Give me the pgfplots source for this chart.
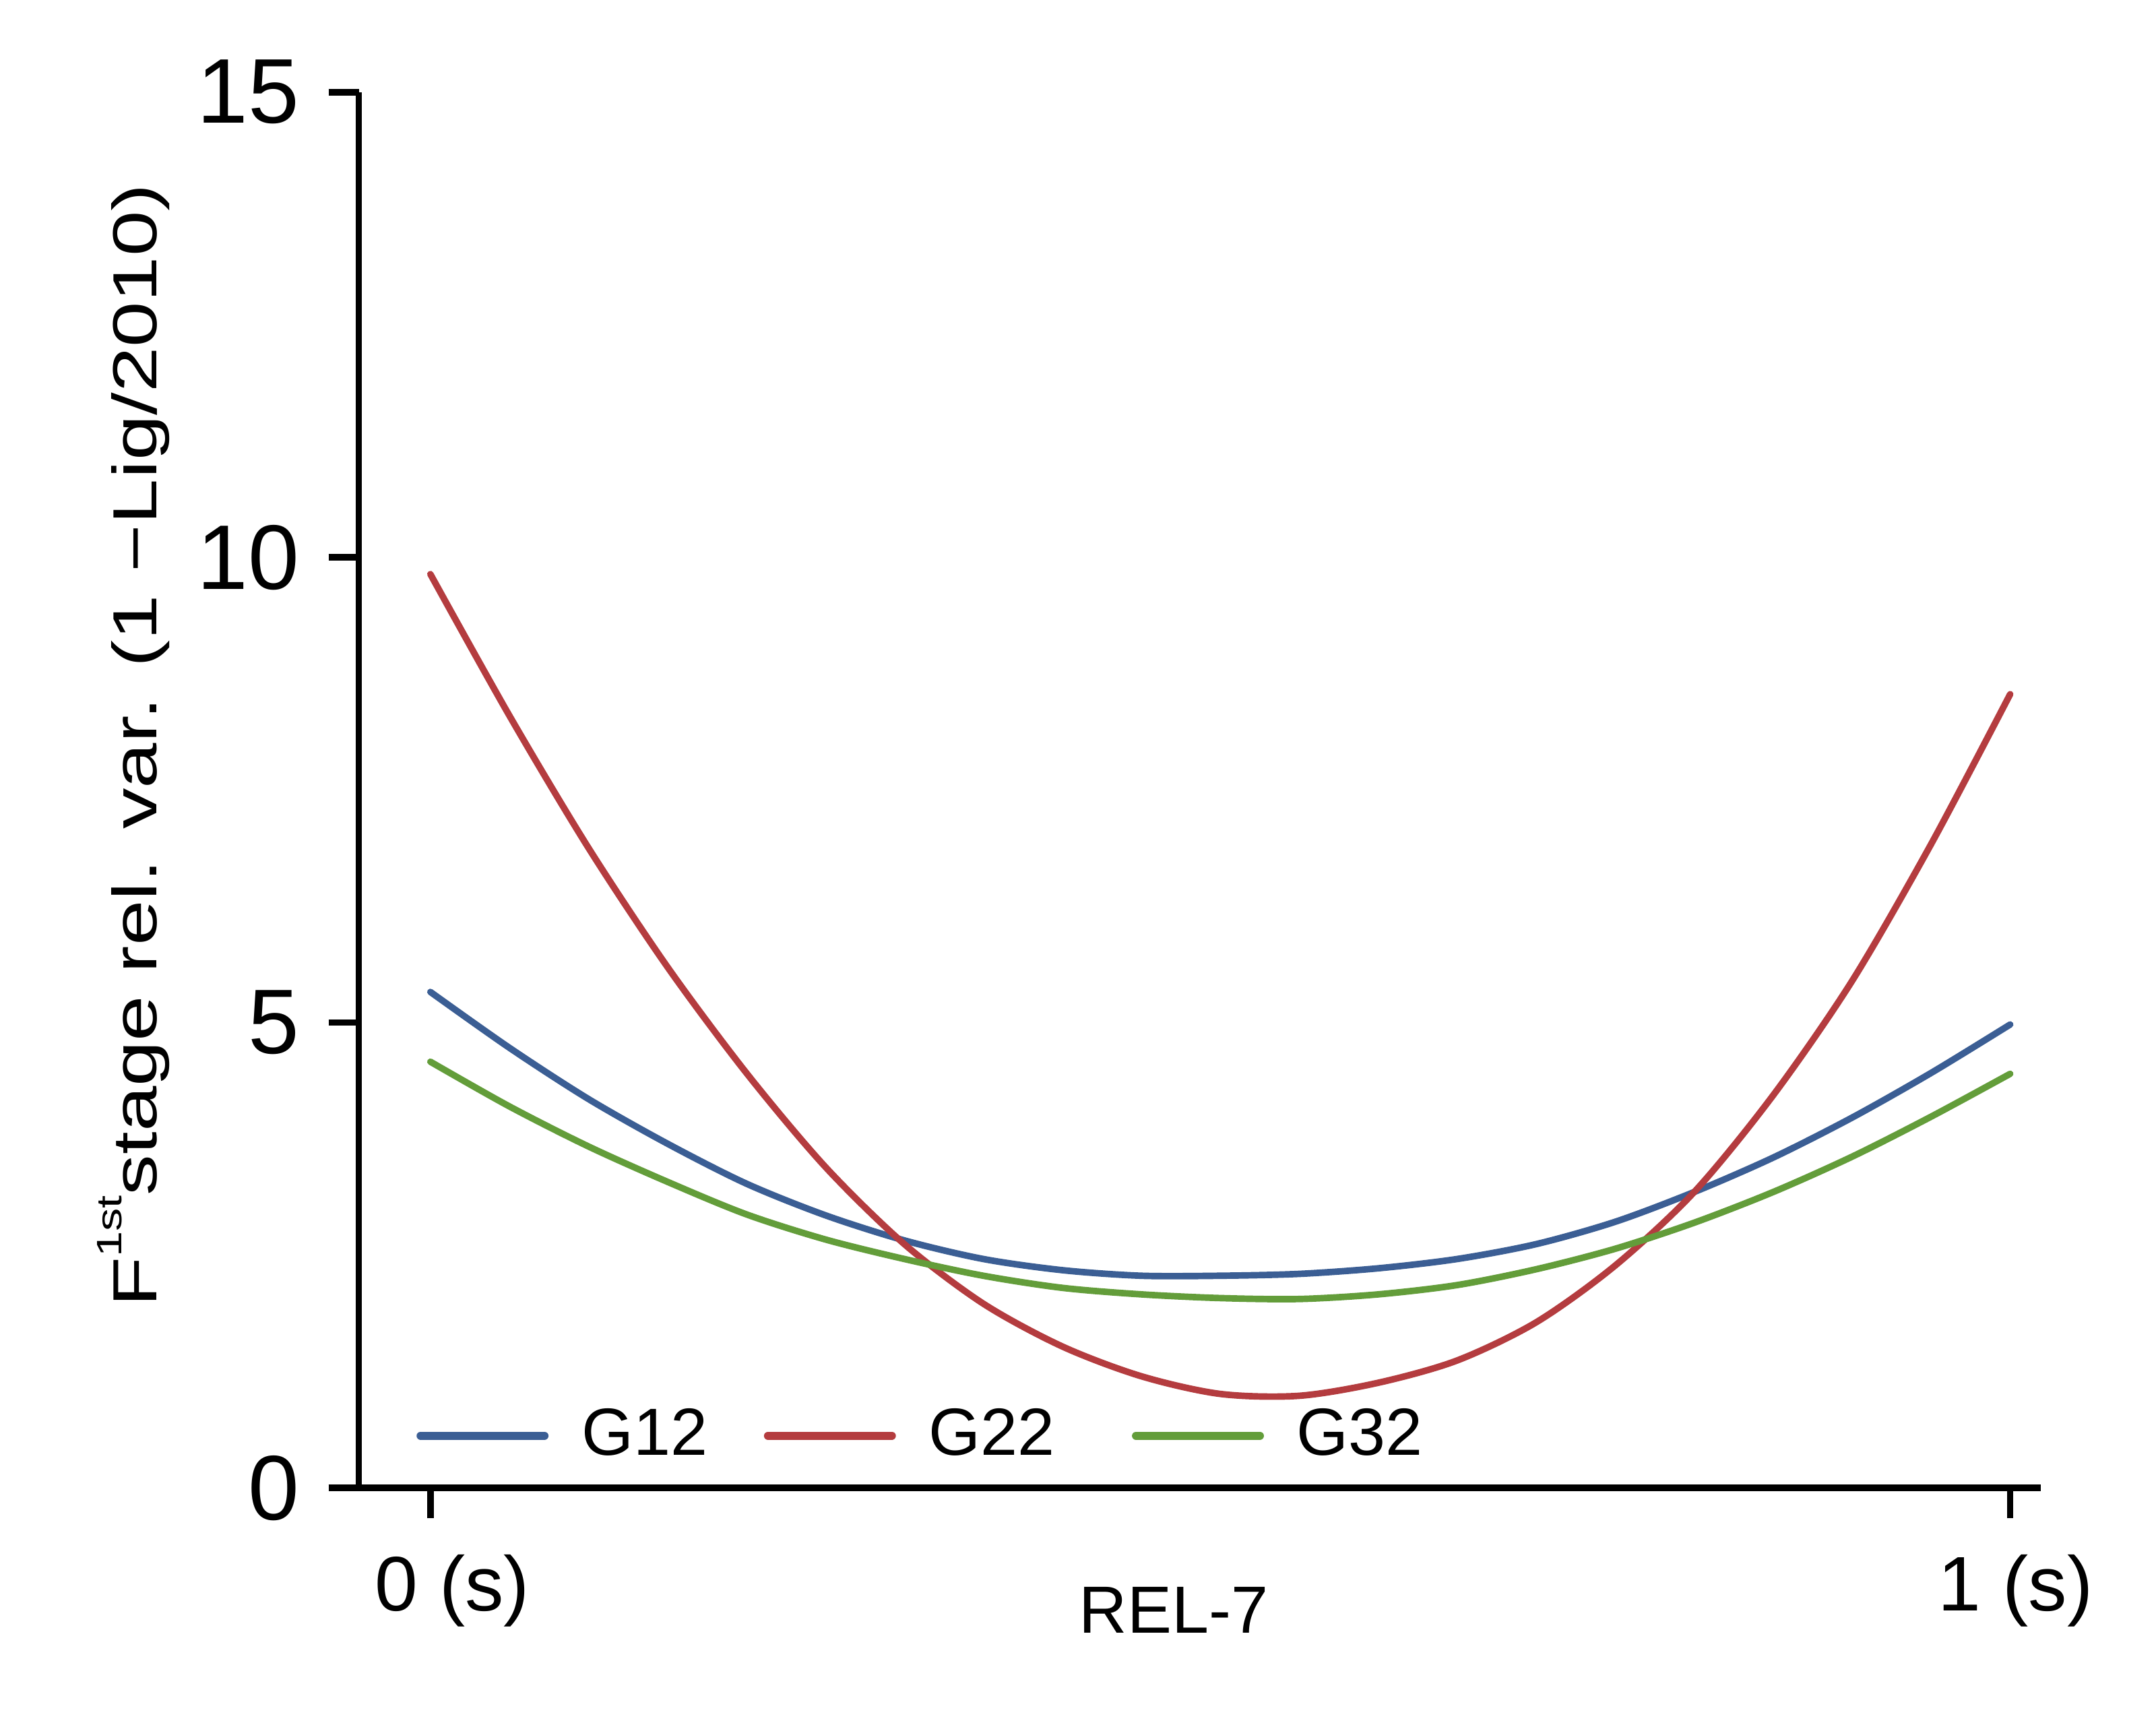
\documentclass[border=0pt]{standalone}
\usepackage{fontspec}
\setmainfont{Liberation Sans}
% wide cut of the same face for the rotated y label
\newfontfamily\ylabfont[FakeStretch=1.31]{Liberation Sans}
\usepackage{pgfplots}
\pgfplotsset{compat=1.18}

\definecolor{gblue}{RGB}{59,94,148}
\definecolor{gred}{RGB}{180,60,63}
\definecolor{ggreen}{RGB}{99,157,58}

\begin{document}
\begin{tikzpicture}
\begin{axis}[
  at={(0,0)}, anchor=south west,
  scale only axis, width=12.23cm, height=10.15cm,
  xmin=-0.04526, xmax=1.0192, ymin=0, ymax=15,
  axis x line*=bottom, axis y line*=left,
  axis line style={line width=1.35pt, black},
  tick align=outside, major tick length=2.2mm,
  tick style={line width=1.35pt, black},
  xtick={0,1},
  xticklabels={{\hspace*{3.2mm}0 (s)},{\hspace*{0.8mm}1 (s)}},
  ytick={0,5,10,15},
  /pgf/number format/assume math mode=true,
  yticklabel style={font=\fontsize{19}{21}\selectfont, xshift=-0.9mm},
  xticklabel style={font=\fontsize{16}{19}\selectfont, yshift=-1.4mm},
  xlabel={REL-7},
  xlabel style={at={(axis description cs:0.4845,-0.0877)}, anchor=center,
    font=\fontsize{13.8}{16}\selectfont},
  ylabel={F\raisebox{1.05ex}{\fontsize{7.3}{8}\ylabfont 1st}stage rel. var. (1 −Lig/2010)},
  ylabel style={at={(axis description cs:-0.134,0.532)}, anchor=center,
    font=\fontsize{12.9}{15}\ylabfont},
  legend columns=3,
  legend style={draw=none, fill=none, inner sep=0pt, outer sep=0pt,
    at={(axis description cs:0.0343,0.0374)}, anchor=west,
    font=\fontsize{13.8}{16}\selectfont,
    nodes={inner sep=0pt},
    /tikz/every odd column/.append style={column sep=2.4mm},
    /tikz/every even column/.append style={column sep=4.1mm}},
  legend image code/.code={\draw[#1, line width=1.7pt, line cap=round] (0mm,0mm) -- (9.0mm,0mm);},
  every axis plot/.append style={line width=1.35pt, line cap=round, smooth},
]

% G12
\addplot[color=gblue] coordinates {
(0.00,5.33) (0.05,4.73) (0.10,4.18) (0.15,3.70) (0.20,3.27) (0.25,2.93)
(0.30,2.66) (0.35,2.46) (0.40,2.34) (0.45,2.28) (0.50,2.28) (0.55,2.30)
(0.60,2.36) (0.65,2.46) (0.70,2.62) (0.75,2.86) (0.80,3.18) (0.85,3.55)
(0.90,3.98) (0.95,4.46) (1.00,4.98)};
\addlegendentry{G12}

% G22
\addplot[color=gred] coordinates {
(0.00,9.82) (0.05,8.30) (0.10,6.88) (0.15,5.60) (0.20,4.46) (0.25,3.45)
(0.30,2.62) (0.35,1.98) (0.40,1.52) (0.45,1.20) (0.50,1.01) (0.55,0.99)
(0.60,1.13) (0.65,1.37) (0.70,1.78) (0.75,2.39) (0.80,3.18) (0.85,4.22)
(0.90,5.45) (0.95,6.92) (1.00,8.53)};
\addlegendentry{G22\hspace*{1.5mm}}

% G32
\addplot[color=ggreen] coordinates {
(0.00,4.58) (0.05,4.10) (0.10,3.67) (0.15,3.29) (0.20,2.94) (0.25,2.67)
(0.30,2.46) (0.35,2.28) (0.40,2.15) (0.45,2.08) (0.50,2.04) (0.55,2.03)
(0.60,2.08) (0.65,2.18) (0.70,2.35) (0.75,2.57) (0.80,2.85) (0.85,3.18)
(0.90,3.56) (0.95,3.99) (1.00,4.45)};
\addlegendentry{G32}
\end{axis}
\pgfresetboundingbox
\path[use as bounding box] (-2.61cm,-1.72cm) rectangle (13.07cm,10.82cm);
\end{tikzpicture}
\end{document}
